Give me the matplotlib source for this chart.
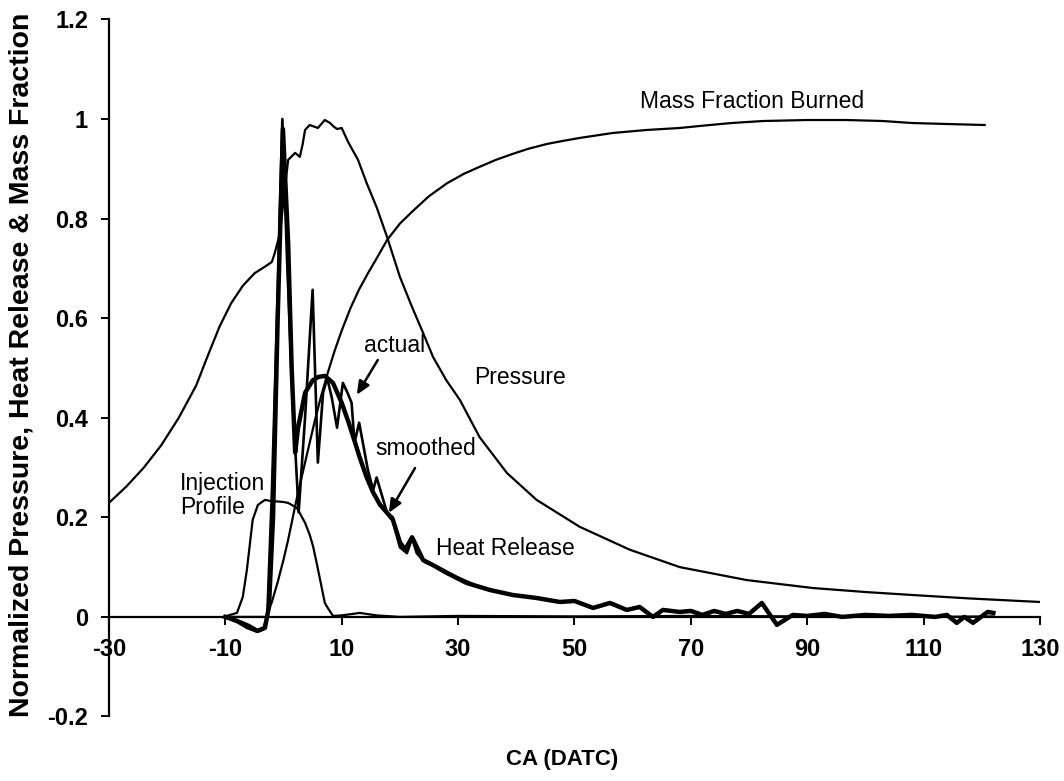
import numpy as np
import matplotlib
matplotlib.use("Agg")
import matplotlib.pyplot as plt

plt.rcParams['font.family'] = ['Liberation Sans', 'DejaVu Sans']

# Normalized cylinder pressure vs crank angle
P_CA = [-30, -27, -24, -21, -18, -15, -13, -11, -9, -7, -5, -3, -2, -1.5, -0.6,
        0.2, 0.8, 1.4, 2.0, 2.8, 3.3, 3.7, 4.5, 5.2, 5.9, 6.5, 7.1, 8.0, 8.6,
        9.2, 10.0, 11.1, 12.8, 14.3, 16.0, 17.8, 20.0, 22.0, 24.0, 25.7, 28.0,
        30.3, 33.7, 38.4, 43.5, 50.9, 59.5, 68.1, 79.6, 91.0, 100, 108.1, 118, 130]
PRESSURE = [0.229, 0.262, 0.300, 0.345, 0.400, 0.465, 0.525, 0.583, 0.630, 0.665,
            0.690, 0.705, 0.713, 0.731, 0.771, 0.857, 0.918, 0.925, 0.932, 0.924,
            0.950, 0.978, 0.988, 0.985, 0.982, 0.990, 0.998, 0.992, 0.985, 0.980,
            0.982, 0.954, 0.918, 0.871, 0.823, 0.763, 0.683, 0.625, 0.570, 0.522,
            0.475, 0.436, 0.361, 0.289, 0.235, 0.181, 0.135, 0.100, 0.074, 0.058,
            0.050, 0.044, 0.037, 0.030]

# Mass fraction burned
M_CA = [-10, -3, -2, -1, 0, 0.8, 1.6, 2.5, 3.5, 4.5, 5.4, 6.5, 7.6, 8.8, 10,
        11.5, 13, 14.5, 16, 17.8, 20, 22.2, 25, 28.1, 31, 33.7, 36.5, 39.4, 42,
        45.3, 48, 50.9, 56.6, 62.4, 68.1, 71.5, 77, 82.4, 90, 96.8, 103, 108,
        114, 120.5]
MFB = [0, 0, 0.03, 0.07, 0.115, 0.155, 0.2, 0.25, 0.3, 0.35, 0.395, 0.445, 0.49,
       0.535, 0.575, 0.62, 0.658, 0.69, 0.72, 0.757, 0.79, 0.815, 0.845, 0.871,
       0.89, 0.904, 0.918, 0.93, 0.94, 0.95, 0.956, 0.962, 0.972, 0.978, 0.982,
       0.986, 0.992, 0.996, 0.998, 0.998, 0.996, 0.992, 0.99, 0.988]

# Injection profile
I_CA = [-10.4, -8, -7, -6.3, -5.3, -4.4, -3.2, -2.3, -0.1, 0.8, 2.3, 3.7, 4.5,
        5.1, 5.7, 6.3, 7.1, 7.5, 8.5, 10, 13.1, 16, 20, 30, 50, 70, 90, 110, 122]
INJECTION = [0, 0.008, 0.04, 0.094, 0.195, 0.225, 0.235, 0.233, 0.231, 0.229,
             0.219, 0.189, 0.165, 0.141, 0.108, 0.074, 0.028, 0.02, 0.002, 0.003,
             0.008, 0.003, 0.0, 0.002, 0.001, 0.002, 0.001, 0.0, 0.001]

# Heat release tail shared by both traces
TAIL_CA = [35.5, 39.4, 43.5, 47.5, 50, 53.2, 56.1, 59, 61.2, 63.5, 65.2, 68.1,
           70, 72, 74, 76, 78, 80, 82.2, 84.8, 87.5, 90, 93, 96, 100, 104, 108,
           112, 114, 115.7, 117, 118.5, 121, 122]
TAIL_HR = [0.054, 0.044, 0.038, 0.03, 0.032, 0.018, 0.028, 0.014, 0.02, 0.0,
           0.014, 0.01, 0.012, 0.004, 0.012, 0.006, 0.012, 0.006, 0.028, -0.016,
           0.004, 0.002, 0.006, 0.0, 0.004, 0.002, 0.004, 0.0, 0.004, -0.012,
           0.0, -0.012, 0.01, 0.008]

# Heat release, actual
HA_CA = [-10, -8, -6.3, -4.5, -3.5, -2.8, -2, -1, -0.2, 0.6, 1.5, 2.6, 3.7, 5.0,
         5.9, 6.8, 7.5, 8.3, 9.2, 10.2, 11.0, 11.7, 12.2, 13.0, 14.5, 15.4, 16.0,
         17.8, 18.8, 19.1, 20.0, 21.2, 22.1, 22.9, 24.3, 26.9, 29.8, 33.7] + TAIL_CA
HR_ACTUAL = [0, -0.01, -0.022, -0.03, -0.025, 0.0, 0.25, 0.65, 1.0, 0.72, 0.45,
             0.21, 0.40, 0.657, 0.31, 0.45, 0.48, 0.44, 0.38, 0.47, 0.45, 0.43,
             0.35, 0.39, 0.295, 0.255, 0.28, 0.209, 0.20, 0.18, 0.14, 0.128,
             0.158, 0.128, 0.11, 0.098, 0.08, 0.06] + TAIL_HR

# Heat release, smoothed
HS_CA = [-10, -8, -6, -4.5, -3.2, -2.5, -1.8, -1.0, -0.1, 0.8, 1.4, 2.0, 2.5,
         3.7, 5.0, 6.0, 7.1, 8.5, 10.0, 11.2, 12.3, 13.1, 14.3, 15.4, 16.6, 17.8,
         18.8, 20.0, 20.9, 22.1, 24.0, 25.7, 28.1, 31.5] + TAIL_CA
HR_SMOOTH = [0, -0.008, -0.018, -0.028, -0.022, 0.02, 0.2, 0.6, 0.98, 0.75, 0.5,
             0.33, 0.38, 0.45, 0.475, 0.482, 0.484, 0.47, 0.43, 0.39, 0.35, 0.32,
             0.28, 0.25, 0.225, 0.209, 0.195, 0.15, 0.135, 0.16, 0.114, 0.104,
             0.088, 0.068] + TAIL_HR

X_TICKS = [-30, -10, 10, 30, 50, 70, 90, 110, 130]
Y_TICKS = [-0.2, 0, 0.2, 0.4, 0.6, 0.8, 1, 1.2]
Y_TICK_LABELS = ["-0.2", "0", "0.2", "0.4", "0.6", "0.8", "1", "1.2"]

fig = plt.figure(figsize=(10.64, 7.81), dpi=100)
ax = fig.add_axes([0.1024, 0.0826, 0.875, 0.8925])

ax.plot(P_CA, PRESSURE, color='black', lw=1.6)
ax.plot(M_CA, MFB, color='black', lw=1.6)
ax.plot(I_CA, INJECTION, color='black', lw=1.6)
ax.plot(HA_CA, HR_ACTUAL, color='black', lw=1.9)
ax.plot(HS_CA, HR_SMOOTH, color='black', lw=3.2)

ax.set_xlim(-30, 130)
ax.set_ylim(-0.2, 1.2)

# axis frame: x axis sits on y = 0
ax.spines['top'].set_visible(False)
ax.spines['right'].set_visible(False)
ax.spines['bottom'].set_position(('data', 0))
ax.spines['left'].set_linewidth(1.6)
ax.spines['bottom'].set_linewidth(1.6)

ax.set_xticks(X_TICKS)
ax.set_xticklabels([str(t) for t in X_TICKS])
ax.set_yticks(Y_TICKS)
ax.set_yticklabels(Y_TICK_LABELS)
ax.tick_params(axis='x', direction='out', length=6, width=1.4, pad=9, labelsize=17)
ax.tick_params(axis='y', direction='out', length=6, width=1.4, pad=9, labelsize=17)
for lbl in ax.get_xticklabels() + ax.get_yticklabels():
    lbl.set_fontweight('bold')

ax.set_xlabel('CA (DATC)', fontsize=16, fontweight='bold')
ax.xaxis.set_label_coords(0.4866, -0.0624)
ax.xaxis.label.set_va('center')
ax.set_ylabel('Normalized Pressure, Heat Release & Mass Fraction', fontsize=20.5,
              fontweight='bold')
ax.yaxis.set_label_coords(-0.0934, 0.504)
ax.yaxis.label.set_va('center')

# curve labels
txt = dict(fontsize=16.5, color='black')
ax.text(80.5, 1.036, 'Mass Fraction Burned', ha='center', va='center', **txt)
ax.text(40.6, 0.48, 'Pressure', ha='center', va='center', **txt)
ax.text(38.2, 0.137, 'Heat Release', ha='center', va='center', **txt)
ax.text(-17.8, 0.244, 'Injection\nProfile', ha='left', va='center',
        linespacing=1.1, **txt)
ax.text(19.1, 0.546, 'actual', ha='center', va='center', **txt)
ax.text(24.5, 0.339, 'smoothed', ha='center', va='center', **txt)

arrow = dict(arrowstyle='-|>,head_length=0.8,head_width=0.35', color='black',
             lw=1.8, shrinkA=0, shrinkB=0)
ax.annotate('', xy=(12.6, 0.446), xytext=(16.2, 0.516), arrowprops=arrow)
ax.annotate('', xy=(18.1, 0.209), xytext=(22.6, 0.299), arrowprops=arrow)

fig.savefig('out.png', dpi=100)
